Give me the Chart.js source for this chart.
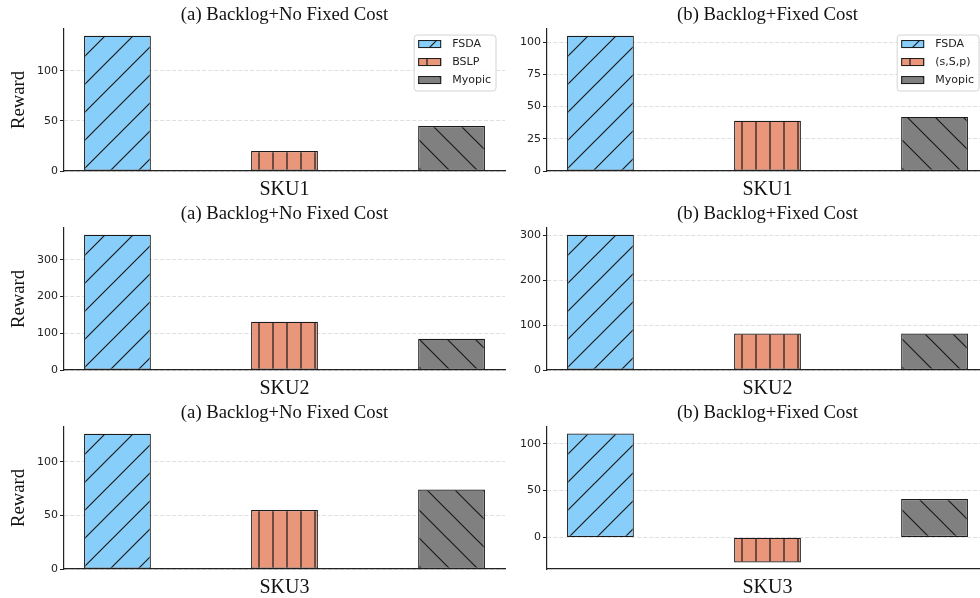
<!DOCTYPE html>
<html>
<head>
<meta charset="utf-8">
<script src="https://cdn.jsdelivr.net/npm/chart.js@4"></script>
<style>
  html, body { margin: 0; padding: 0; background: #fff; overflow: hidden; }
  #fig { position: relative; width: 980px; height: 598px; overflow: hidden; }
  #fig canvas { position: absolute; }
</style>
</head>
<body>
<div id="fig"></div>
<script>
// Reward per SKU, one array per policy
const skus = ['SKU1', 'SKU2', 'SKU3'];
const panelTitles = ['(a) Backlog+No Fixed Cost', '(b) Backlog+Fixed Cost'];
const policiesNoFixed = ['FSDA', 'BSLP', 'Myopic'];
const policiesFixed = ['FSDA', '(s,S,p)', 'Myopic'];

const fsdaNoFixed = [135, 368, 126];
const bslpNoFixed = [20, 131, 55];
const myopicNoFixed = [45, 85, 74];

const fsdaFixed = [105, 301, 111];
const sspFixed = [39, 81, -27];
const myopicFixed = [42, 81, 41];

// y tick values per row
const ticksNoFixed = [[0, 50, 100], [0, 100, 200, 300], [0, 50, 100]];
const ticksFixed = [[0, 25, 50, 75, 100], [0, 100, 200, 300], [0, 50, 100]];

const barColors = ['#87CEFA', '#E9967A', '#808080'];
const hatchKinds = ['/', '|', '\\'];
const BAR_W = 0.4;

// tiled hatch fill, like matplotlib's hatch='/', '|', '\\'
function makeHatch(kind, color) {
  const size = kind === '|' ? 14 : 28;
  const c = document.createElement('canvas');
  c.width = size; c.height = size;
  const g = c.getContext('2d');
  g.fillStyle = color;
  g.fillRect(0, 0, size, size);
  g.strokeStyle = '#1a1a1a';
  g.lineWidth = 1.2;
  g.beginPath();
  if (kind === '/') {
    g.moveTo(-2, size + 2); g.lineTo(size + 2, -2);
    g.moveTo(-2, 2); g.lineTo(2, -2);
    g.moveTo(size - 2, size + 2); g.lineTo(size + 2, size - 2);
  } else if (kind === '\\') {
    g.moveTo(-2, -2); g.lineTo(size + 2, size + 2);
    g.moveTo(size - 2, -2); g.lineTo(size + 2, 2);
    g.moveTo(-2, size - 2); g.lineTo(2, size + 2);
  } else {
    g.moveTo(7, 0); g.lineTo(7, size);
  }
  g.stroke();
  return g.createPattern(c, 'repeat');
}
const hatches = barColors.map((col, i) => makeHatch(hatchKinds[i], col));

// framed legend in the upper right corner of the plot area
const boxLegend = {
  id: 'boxLegend',
  afterDatasetsDraw(chart, args, opts) {
    if (!opts.display) return;
    const { ctx, chartArea } = chart;
    const sets = chart.data.datasets;
    ctx.save();
    ctx.font = '11px "DejaVu Sans"';
    const textW = Math.max(...sets.map(d => ctx.measureText(d.label).width));
    const w = 4 + 23 + 11 + textW + 5;
    const h = 56;
    const x = chartArea.right - 9 - w;
    const y = chartArea.top + 6;
    ctx.beginPath();
    ctx.roundRect(x, y, w, h, 3);
    ctx.fillStyle = 'rgba(255,255,255,0.85)';
    ctx.fill();
    ctx.strokeStyle = '#d4d4d4';
    ctx.lineWidth = 1;
    ctx.stroke();
    sets.forEach((d, i) => {
      const cy = y + 9 + i * 18;
      ctx.fillStyle = d.backgroundColor;
      ctx.fillRect(x + 4, cy - 4, 23, 8);
      ctx.strokeStyle = '#1a1a1a';
      ctx.strokeRect(x + 4.5, cy - 3.5, 22, 7);
      ctx.fillStyle = '#222';
      ctx.textBaseline = 'middle';
      ctx.fillText(d.label, x + 38, cy);
    });
    ctx.restore();
  }
};

function yRange(vals) {
  const lo = Math.min(0, ...vals), hi = Math.max(0, ...vals);
  const span = hi - lo;
  return { min: lo < 0 ? lo - 0.05 * span : 0, max: hi + 0.05 * span };
}

function drawPanel(row, col) {
  const fig = document.getElementById('fig');
  const cv = document.createElement('canvas');
  cv.width = 569; cv.height = 200;
  cv.style.left = (col === 0 ? 0 : 483) + 'px';
  cv.style.top = [1, 200, 399][row] + 'px';
  fig.appendChild(cv);

  const names = col === 0 ? policiesNoFixed : policiesFixed;
  const series = col === 0
    ? [fsdaNoFixed, bslpNoFixed, myopicNoFixed]
    : [fsdaFixed, sspFixed, myopicFixed];
  const vals = series.map(s => s[row]);
  const tickVals = (col === 0 ? ticksNoFixed : ticksFixed)[row];
  const yr = yRange(vals);
  const xPad = 0.05 * (2 + BAR_W);

  new Chart(cv.getContext('2d'), {
    type: 'bar',
    data: {
      datasets: names.map((name, k) => ({
        label: name,
        data: [{ x: k, y: vals[k] }],
        backgroundColor: hatches[k],
        borderColor: '#1a1a1a',
        borderWidth: 1.2,
        borderSkipped: false,
        grouped: false,
        barPercentage: BAR_W,
        categoryPercentage: 1
      }))
    },
    options: {
      responsive: false,
      animation: false,
      events: [],
      plugins: {
        legend: { display: false },
        tooltip: { enabled: false },
        title: {
          display: true,
          text: panelTitles[col],
          color: '#111',
          font: { family: 'Liberation Serif', size: 18.7, weight: 'normal', lineHeight: 1.2 },
          padding: { top: 3.3, bottom: 2.3 }
        },
        boxLegend: { display: row === 0 }
      },
      scales: {
        x: {
          type: 'linear',
          offset: false,
          min: -BAR_W / 2 - xPad,
          max: 2 + BAR_W / 2 + xPad,
          afterBuildTicks: s => { s.ticks = [0, 1, 2].map(v => ({ value: v })); },
          afterFit: s => { s.height = 30; },
          ticks: { display: false },
          grid: { display: false, drawTicks: false, offset: false },
          border: { display: true, color: '#222', width: 1.2 },
          title: {
            display: true,
            text: skus[row],
            color: '#111',
            font: { family: 'Liberation Serif', size: 20, lineHeight: 1.1 },
            padding: { top: 0, bottom: 0 }
          }
        },
        y: {
          type: 'linear',
          position: 'left',
          min: yr.min,
          max: yr.max,
          afterBuildTicks: s => { s.ticks = tickVals.map(v => ({ value: v })); },
          afterFit: s => { s.width = 64; },
          ticks: { color: '#222', padding: 2, font: { family: 'DejaVu Sans', size: 11 } },
          grid: { color: 'rgba(0,0,0,0.16)', lineWidth: 0.8, tickLength: 4, tickColor: '#222', tickWidth: 1 },
          border: { display: true, color: '#222', width: 1.2, dash: [4, 2] },
          title: {
            display: col === 0,
            text: 'Reward',
            color: '#111',
            font: { family: 'Liberation Serif', size: 18.7, lineHeight: 1.2 },
            padding: { top: 7.5, bottom: 0 }
          }
        },
        // empty right-hand axis so the title centres over the plot area
        pad: {
          type: 'linear',
          position: 'right',
          afterFit: s => { s.width = 64; },
          ticks: { display: false },
          grid: { display: false, drawTicks: false },
          border: { display: false }
        }
      }
    },
    plugins: [boxLegend]
  });
}

for (let r = 0; r < 3; r++) {
  drawPanel(r, 0);
}
for (let r = 0; r < 3; r++) {
  drawPanel(r, 1);
}
</script>
</body>
</html>
